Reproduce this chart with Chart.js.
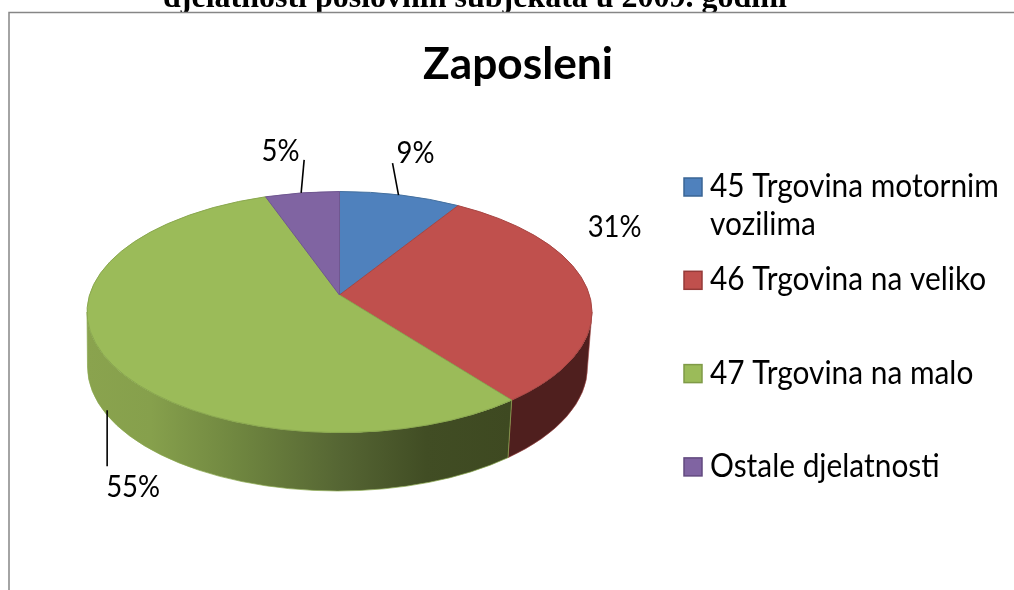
<!DOCTYPE html>
<html><head><meta charset="utf-8">
<style>html,body{margin:0;padding:0;background:#fff;overflow:hidden}canvas{display:block}</style>
<script src="https://cdn.jsdelivr.net/npm/chart.js@4"></script>
</head><body><canvas id="c" width="1014" height="590"></canvas>
<script>
const categories = ["45 Trgovina motornim vozilima", "46 Trgovina na veliko", "47 Trgovina na malo", "Ostale djelatnosti"];
const legendLines = [["45 Trgovina motornim", "vozilima"], ["46 Trgovina na veliko"], ["47 Trgovina na malo"], ["Ostale djelatnosti"]];
const shares = [9, 31, 55, 5];
const percentLabels = ["9%", "31%", "55%", "5%"];
const sliceColors = ["#4f81bd", "#c0504d", "#9bbb59", "#8064a2"];
const sliceEdges = ["#44709f", "#a84643", "#8aa84f", "#6f5790"];
const legendBorders = ["#3a6595", "#953a38", "#7f9a47", "#62497f"];
const titleText = "Zaposleni";
const headerText = "djelatnosti poslovnih subjekata u 2009. godini";

// geometry of the tilted pie, all relative to the library's arc
const TILT = 120.5 / 252.5, APEX_LIFT = 17;
const DEG = Math.PI / 180;
const BASE = {dx: -2, dy: 55, rx: 250 / 252.5, ry: 124 / 252.5};
// label offsets from the slice's mid-angle rim point, leader [x1,y1,x2,y2]
const labelPlace = [
  {t: [-4, -32], lead: [-2, 0, -8, -32]},
  {t: [1, -50], lead: null},
  {t: [-1, 138], lead: [0, 51, 0, 107]},
  {t: [-40.7, -32], lead: [-1, 0, 2, -33]}
];

const probe = document.createElement('canvas').getContext('2d');
function fit(weight, family, text, width) {
  probe.font = `${weight} 100px ${family}`;
  return 100 * width / probe.measureText(text).width;
}
const STRETCH = 1.09; // taller glyphs, same widths (closer to the reference's face)
const titleSize = fit('bold', 'Lato', titleText, 190);
const legendSize = fit('normal', 'Lato', legendLines[0][0], 289);
const labelSize = fit('normal', 'Lato', '55%', 54);
const headerSize = fit('bold', '"Liberation Serif"', headerText, 624);

function squeezed(ctx, text, x, y, size) {
  ctx.font = `${size}px Lato`;
  const w = ctx.measureText(text).width;
  ctx.font = `${size * STRETCH}px Lato`;
  ctx.fillText(text, x, y, w);
}

const warp = a => {
  const s = Math.sin(a);
  return a - s * (10.09 * DEG - 2.24 * DEG * Math.cos(a)) * (s > 0 ? 1 : 0.4);
};

const pie3d = {
  id: 'pie3d',
  afterLayout(chart) {
    const tb = chart.titleBlock;
    tb.left = 423; tb.right = 613; tb.top = 35;
  },
  beforeDraw(chart) {
    const ctx = chart.ctx;
    ctx.save();
    ctx.fillStyle = '#fff';
    ctx.fillRect(0, 0, chart.width, chart.height);
    ctx.save();
    ctx.beginPath(); ctx.rect(0, 0, chart.width, 12); ctx.clip();
    ctx.fillStyle = '#000';
    ctx.font = `bold ${headerSize}px "Liberation Serif"`;
    ctx.textBaseline = 'alphabetic';
    ctx.fillText(headerText, 163, 6.5);
    ctx.restore();
    ctx.strokeStyle = '#868686';
    ctx.lineWidth = 1.5;
    ctx.beginPath();
    ctx.moveTo(9, chart.height); ctx.lineTo(9, 12.5); ctx.lineTo(chart.width, 12.5);
    ctx.stroke();
    ctx.restore();
  },
  beforeDatasetsDraw(chart) {
    const ctx = chart.ctx;
    const arcs = chart.getDatasetMeta(0).data;
    const a0 = arcs[0];
    const cx = a0.x, cy = a0.y, rx = a0.outerRadius, ry = rx * TILT;
    const bx = cx + BASE.dx, by = cy + BASE.dy, brx = rx * BASE.rx, bry = rx * BASE.ry;
    const angle = (el, k) => el[k] + Math.PI / 2;
    ctx.save();
    // side walls: the front half only
    const wallFill = i => {
      if (i === 2) {
        const g = ctx.createLinearGradient(cx - rx, 0, cx + rx * 0.68, 0);
        g.addColorStop(0, '#8aa34e');
        g.addColorStop(0.15, '#86a04c');
        g.addColorStop(0.35, '#708740');
        g.addColorStop(0.6, '#556533');
        g.addColorStop(0.8, '#414d24');
        g.addColorStop(1, '#3e4921');
        return g;
      }
      if (i === 1) return '#4f1f1e';
      return sliceColors[i];
    };
    arcs.forEach((el, i) => {
      let s = warp(angle(el, 'startAngle')), e = warp(angle(el, 'endAngle'));
      s = Math.max(s, Math.PI / 2); e = Math.min(e, Math.PI * 1.5);
      if (e <= s) return;
      ctx.beginPath();
      ctx.ellipse(cx, cy, rx, ry, 0, s - Math.PI / 2, e - Math.PI / 2);
      ctx.lineTo(bx + brx * Math.sin(e), by - bry * Math.cos(e));
      ctx.ellipse(bx, by, brx, bry, 0, e - Math.PI / 2, s - Math.PI / 2, true);
      ctx.closePath();
      ctx.fillStyle = wallFill(i);
      ctx.fill();
      ctx.strokeStyle = i === 2 ? 'rgba(138,168,79,.7)' : 'rgba(160,70,68,.6)';
      ctx.lineWidth = 1;
      ctx.stroke();
    });
    // top faces
    const ax = cx, ay = cy - APEX_LIFT;
    arcs.forEach((el, i) => {
      const s = warp(angle(el, 'startAngle')), e = warp(angle(el, 'endAngle'));
      ctx.beginPath();
      ctx.moveTo(ax, ay);
      ctx.lineTo(cx + rx * Math.sin(s), cy - ry * Math.cos(s));
      ctx.ellipse(cx, cy, rx, ry, 0, s - Math.PI / 2, e - Math.PI / 2);
      ctx.closePath();
      ctx.fillStyle = sliceColors[i];
      ctx.fill();
      ctx.strokeStyle = sliceEdges[i];
      ctx.lineWidth = 1;
      ctx.stroke();
    });
    // data labels with leader lines
    ctx.fillStyle = '#000';
    ctx.strokeStyle = '#000';
    ctx.lineWidth = 1.6;
    ctx.textBaseline = 'alphabetic';
    arcs.forEach((el, i) => {
      const m = warp((angle(el, 'startAngle') + angle(el, 'endAngle')) / 2);
      const px = cx + rx * Math.sin(m), py = cy - ry * Math.cos(m);
      const p = labelPlace[i];
      if (p.lead) {
        ctx.beginPath();
        ctx.moveTo(px + p.lead[0], py + p.lead[1]);
        ctx.lineTo(px + p.lead[2], py + p.lead[3]);
        ctx.stroke();
      }
      squeezed(ctx, percentLabels[i], px + p.t[0], py + p.t[1], labelSize);
    });
    // legend
    legendLines.forEach((lines, i) => {
      const top = 178 + i * 93.3;
      ctx.fillStyle = sliceColors[i];
      ctx.fillRect(684, top, 18, 18);
      ctx.strokeStyle = legendBorders[i];
      ctx.lineWidth = 1.5;
      ctx.strokeRect(684, top, 18, 18);
      ctx.fillStyle = '#000';
      lines.forEach((ln, k) => squeezed(ctx, ln, 710, top + 19 + k * 38, legendSize));
    });
    ctx.restore();
    return false;
  }
};

new Chart(document.getElementById('c'), {
  type: 'pie',
  data: {labels: categories, datasets: [{data: shares, backgroundColor: sliceColors, borderWidth: 0}]},
  options: {
    responsive: false,
    animation: false,
    layout: {padding: {left: 87, right: 422, top: 0, bottom: 25.5}},
    plugins: {
      legend: {display: false},
      tooltip: {enabled: false},
      title: {display: true, text: titleText, color: '#000', padding: 0,
        font: {family: 'Lato', weight: 'bold', size: titleSize, lineHeight: 59.5 / titleSize}}
    }
  },
  plugins: [pie3d]
});
</script></body></html>
